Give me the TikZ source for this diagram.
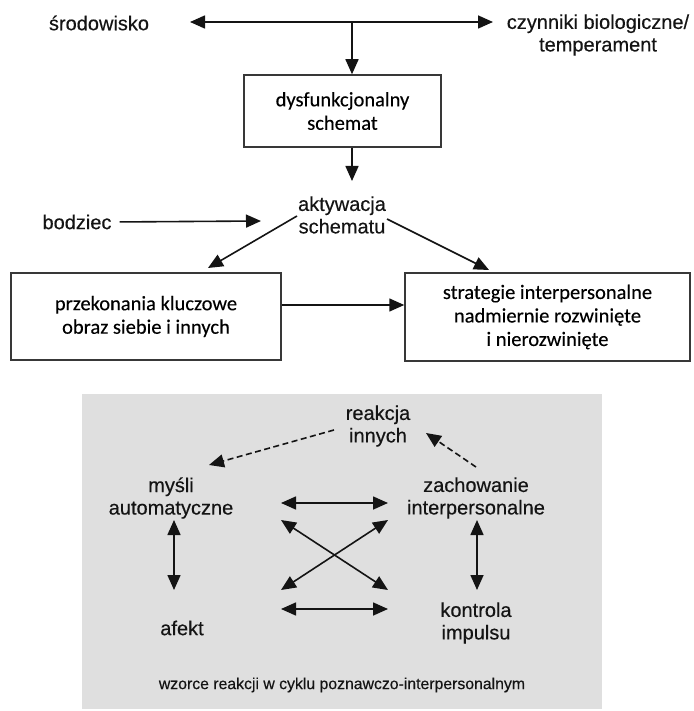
\documentclass[tikz,border=0pt]{standalone}
\usepackage{fontspec}
\setmainfont{Liberation Sans}[FakeBold=0.35]
\newfontfamily\boxfont{Carlito}[FakeBold=0.25]
\usetikzlibrary{arrows.meta}
\definecolor{panelgray}{HTML}{DFDFDF}
\definecolor{ink}{HTML}{141414}
\begin{document}
\begin{tikzpicture}[x=1pt,y=-1pt,
  lab/.style={font=\fontsize{20}{22.5}\selectfont, align=center, inner sep=0pt, text=ink},
  small/.style={font=\fontsize{15.8}{18}\selectfont, inner sep=0pt, text=ink},
  boxed/.style={draw=black!78, line width=1.5pt, font=\boxfont\fontsize{20.5}{23.5}\selectfont,
    align=center, inner sep=0pt, text=black},
  arr/.style={draw=ink, line width=1.6pt, -{Triangle[length=15pt,width=13pt]}},
  darr/.style={draw=ink, line width=1.6pt, {Triangle[length=15pt,width=13pt]}-{Triangle[length=15pt,width=13pt]}},
  dasharr/.style={draw=ink, line width=1.6pt, dash pattern=on 6pt off 3.5pt, -{Triangle[length=15pt,width=13pt]}},
]
\useasboundingbox (0,0) rectangle (693,711);

% ---------- upper part: schema model ----------
\node[lab] (env) at (99,23) {środowisko};
\node[lab] (bio) at (598,35) {czynniki biologiczne/\\temperament};
\node[boxed, minimum width=197pt, minimum height=72pt] (schema) at (342.5,111) {dysfunkcjonalny\\schemat};
\node[lab] (akt) at (342,215) {aktywacja\\schematu};
\node[lab] (stim) at (77,222) {bodziec};
\node[boxed, minimum width=270pt, minimum height=87pt] (beliefs) at (146,316.5) {przekonania kluczowe\\obraz siebie i innych};
\node[boxed, minimum width=285pt, minimum height=88pt] (strat) at (547.5,317) {strategie interpersonalne\\nadmiernie rozwinięte\\i nierozwinięte};

\coordinate (J) at (352,22);
\coordinate (envtip) at (190,22);
\coordinate (biotip) at (493,22);
\coordinate (aktin) at (352,181);
\coordinate (stimtip) at (261,221);
\coordinate (aktL) at (297,216);
\coordinate (aktR) at (387,219);
\coordinate (beliefsin) at (208,268);
\coordinate (stratin) at (489,270);

\draw[arr] (J) -- (envtip);
\draw[arr] (J) -- (biotip);
\draw[arr] (J) -- (J |- schema.north);
\draw[arr] (J |- schema.south) -- (aktin);
\draw[arr, shorten <=8pt] (stim.east) -- (stimtip);
\draw[arr] (aktL) -- (beliefsin);
\draw[arr] (aktR) -- (stratin);
\draw[arr] (beliefs.east |- 0,305) -- (strat.west |- 0,305);

% ---------- lower part: cognitive-interpersonal cycle ----------
\fill[panelgray] (82,394) rectangle (602,709);

\node[lab] (others) at (378,426) {reakcja\\innych};
\node[lab] (thoughts) at (171,498) {myśli\\automatyczne};
\node[lab] (behav) at (476,498) {zachowanie\\interpersonalne};
\node[lab] (affect) at (182,628) {afekt};
\node[lab] (impulse) at (476,623) {kontrola\\impulsu};
\node[small] (caption) at (342,685) {wzorce reakcji w cyklu poznawczo-interpersonalnym};

\coordinate (o1) at (334,430);
\coordinate (t1) at (209,465);
\coordinate (b1) at (476,467);
\coordinate (o2) at (426,433);
\draw[dasharr] (o1) -- (t1);
\draw[dasharr] (b1) -- (o2);

\coordinate (ul) at (281,503);
\coordinate (ur) at (388,503);
\coordinate (cul) at (281,520);
\coordinate (cur) at (388,520);
\coordinate (cll) at (281,590);
\coordinate (clr) at (388,590);
\coordinate (ll) at (281,609);
\coordinate (lr) at (388,609);
\draw[darr] (ul) -- (ur);
\draw[darr] (cul) -- (clr);
\draw[darr] (cur) -- (cll);
\draw[darr] (ll) -- (lr);

\coordinate (vlt) at (174,520);
\coordinate (vlb) at (174,590);
\coordinate (vrt) at (477,520);
\coordinate (vrb) at (477,590);
\draw[darr] (vlt) -- (vlb);
\draw[darr] (vrt) -- (vrb);
\end{tikzpicture}
\end{document}
